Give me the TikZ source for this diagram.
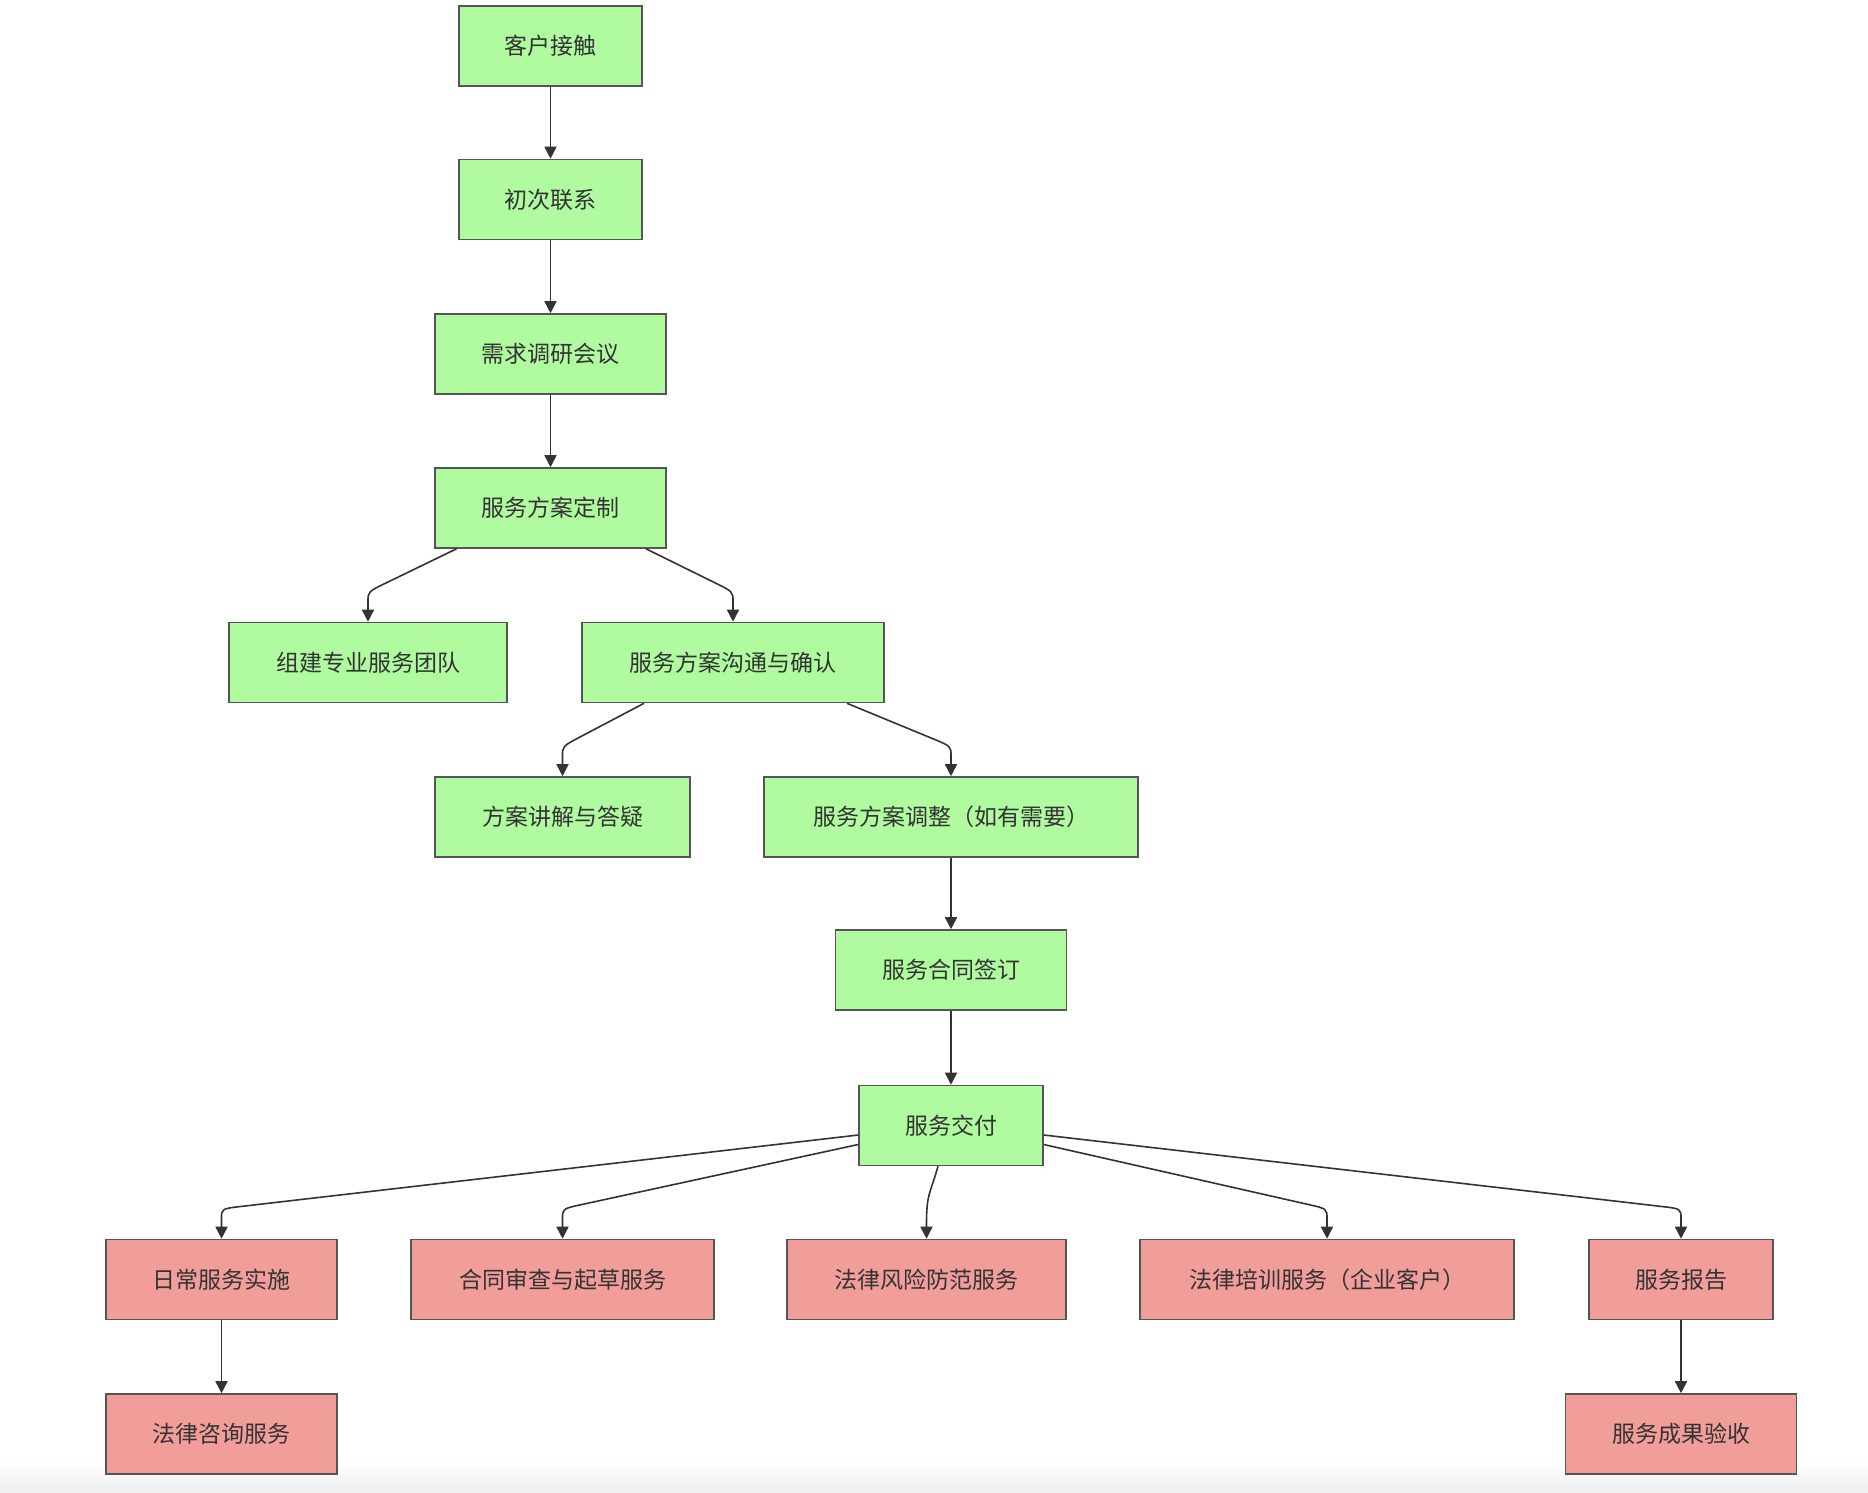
\documentclass[tikz,border=0pt]{standalone}
\usepackage{fontspec}
\setmainfont{Noto Sans CJK SC}
\usetikzlibrary{arrows.meta,calc}
\definecolor{gfill}{HTML}{B0FBA0}
\definecolor{rfill}{HTML}{F19E9B}
\definecolor{bline}{HTML}{555555}
\definecolor{eline}{HTML}{333333}
\definecolor{tcol}{HTML}{333333}
\tikzset{
  box/.style={draw=bline,line width=1.6pt,minimum height=80pt,inner sep=0pt,
    font=\fontsize{23pt}{27pt}\selectfont,text=tcol},
  gbox/.style={box,fill=gfill},
  rbox/.style={box,fill=rfill},
  arr/.style={draw=eline,line width=1.6pt,-{Triangle[length=12pt,width=12pt]}},
}
\newcommand\fanedge[2]{%
  \path (#1) coordinate (fs) ($(#2.north)+(0,-30)$) coordinate (fq);
  \draw[arr] (fs) -- ($(fq)!20pt!(fs)$) .. controls (fq) .. ($(fq)+(0,10)$) -- (#2.north);}
\begin{document}
\begin{tikzpicture}[x=1pt,y=-1pt]
\useasboundingbox (0,0) rectangle (1868,1492);
\fill[white] (0,0) rectangle (1868,1492);
\shade[top color=white,bottom color=black!6] (0,1460) rectangle (1868,1492);

\node[gbox,minimum width=183pt] (a) at (550.5,46) {客户接触};
\node[gbox,minimum width=183pt] (b) at (550.5,199.5) {初次联系};
\node[gbox,minimum width=231pt] (c) at (550.5,354) {需求调研会议};
\node[gbox,minimum width=231pt] (d) at (550.5,508) {服务方案定制};
\node[gbox,minimum width=278pt] (e) at (368,662.5) {组建专业服务团队};
\node[gbox,minimum width=302pt] (f) at (733,662.5) {服务方案沟通与确认};
\node[gbox,minimum width=255pt] (g) at (562.5,817) {方案讲解与答疑};
\node[gbox,minimum width=374pt] (h) at (951,817) {服务方案调整（如有需要）};
\node[gbox,minimum width=231pt] (i) at (951,970) {服务合同签订};
\node[gbox,minimum width=184pt] (j) at (951,1125.5) {服务交付};
\node[rbox,minimum width=231pt] (k) at (221.5,1279.5) {日常服务实施};
\node[rbox,minimum width=303pt] (l) at (562.5,1279.5) {合同审查与起草服务};
\node[rbox,minimum width=279pt] (m) at (926.5,1279.5) {法律风险防范服务};
\node[rbox,minimum width=374pt] (n) at (1327,1279.5) {法律培训服务（企业客户）};
\node[rbox,minimum width=184pt] (o) at (1681,1279.5) {服务报告};
\node[rbox,minimum width=231pt] (p) at (221.5,1434) {法律咨询服务};
\node[rbox,minimum width=231pt] (q) at (1681,1434) {服务成果验收};

\draw[arr] (a) -- (b);
\draw[arr] (b) -- (c);
\draw[arr] (c) -- (d);
\fanedge{$(d.south)+(-94,0)$}{e}
\fanedge{$(d.south)+(95.5,0)$}{f}
\fanedge{$(f.south)+(-89,0)$}{g}
\fanedge{$(f.south)+(114,0)$}{h}
\draw[arr] (h) -- (i);
\draw[arr] (i) -- (j);
\fanedge{$(j.west)+(0,9.5)$}{k}
\fanedge{$(j.west)+(0,19)$}{l}
\draw[arr] ($(j.south)+(-13,0)$) .. controls ($(j.south)+(-21,28)$) and ($(m.north)+(0,-45)$) .. ($(m.north)+(0,-15)$) -- (m.north);
\fanedge{$(j.east)+(0,19)$}{n}
\fanedge{$(j.east)+(0,9.5)$}{o}
\draw[arr] (k) -- (p);
\draw[arr] (o) -- (q);
\end{tikzpicture}
\end{document}
